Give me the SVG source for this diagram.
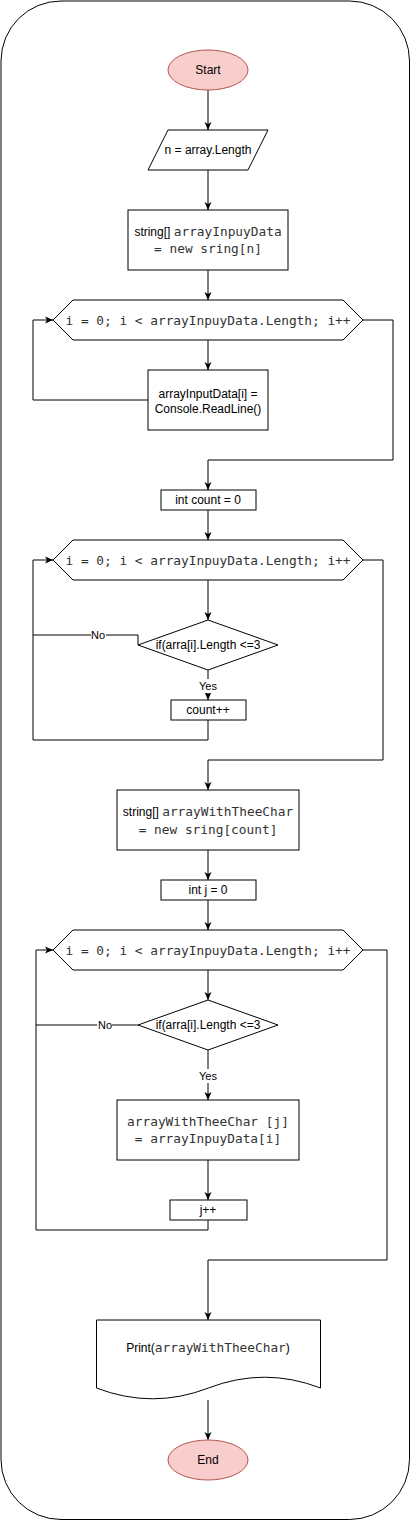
<svg xmlns="http://www.w3.org/2000/svg" width="411" height="1521" viewBox="0 0 411 1521">
<defs>
<style>
.sh{fill:#fff;stroke:#000;stroke-width:1}
.term{fill:#f8cecc;stroke:#b85450;stroke-width:1}
.ln{fill:none;stroke:#000;stroke-width:1}
.t{font-family:"Liberation Sans",Arial,sans-serif;font-size:12px;fill:#000;text-anchor:middle}
.m{font-family:"DejaVu Sans Mono","Liberation Mono",monospace;font-size:12.8px;fill:#333}
.a{font-family:"Liberation Sans",Arial,sans-serif;font-size:12px;fill:#000}
.lbl{font-family:"Liberation Sans",Arial,sans-serif;font-size:11px;fill:#000;text-anchor:middle}
</style>
<marker id="arr" markerUnits="userSpaceOnUse" markerWidth="10" markerHeight="10" refX="8" refY="4" orient="auto">
<path d="M0,0.5 L8,4 L0,7.5 L2,4 Z" fill="#000"/>
</marker>
</defs>
<rect id="frame" x="1" y="1" width="408.5" height="1518.5" rx="60" ry="60" fill="#fff" stroke="#000"/>
<g id="connectors">
<path class="ln" d="M208,90 V130" marker-end="url(#arr)"/>
<path class="ln" d="M208,170 V210" marker-end="url(#arr)"/>
<path class="ln" d="M208,270 V300" marker-end="url(#arr)"/>
<path class="ln" d="M208,340 V370" marker-end="url(#arr)"/>
<path class="ln" d="M148,400 H33 V320 H53" marker-end="url(#arr)"/>
<path class="ln" d="M363,320 H393 V460 H208 V490" marker-end="url(#arr)"/>
<path class="ln" d="M208,510 V540" marker-end="url(#arr)"/>
<path class="ln" d="M208,580 V620" marker-end="url(#arr)"/>
<path class="ln" d="M138,645 V635 H33"/>
<path class="ln" d="M208,670 V700" marker-end="url(#arr)"/>
<path class="ln" d="M208,720 V740 H33 V560 H53" marker-end="url(#arr)"/>
<path class="ln" d="M363,560 H383 V760 H208 V790" marker-end="url(#arr)"/>
<path class="ln" d="M208,850 V880" marker-end="url(#arr)"/>
<path class="ln" d="M208,900 V930" marker-end="url(#arr)"/>
<path class="ln" d="M208,970 V1000" marker-end="url(#arr)"/>
<path class="ln" d="M138,1025 H36"/>
<path class="ln" d="M208,1050 V1100" marker-end="url(#arr)"/>
<path class="ln" d="M208,1160 V1200" marker-end="url(#arr)"/>
<path class="ln" d="M208,1220 V1230 H36 V950 H53" marker-end="url(#arr)"/>
<path class="ln" d="M363,950 H387 V1260 H208 V1320" marker-end="url(#arr)"/>
<path class="ln" d="M208,1400 V1440" marker-end="url(#arr)"/>
<rect x="91" y="628" width="15" height="14" fill="#fff"/>
<text class="lbl" x="98" y="639">No</text>
<rect x="97" y="1018" width="15" height="14" fill="#fff"/>
<text class="lbl" x="105" y="1029">No</text>
<rect x="198" y="679" width="20" height="14" fill="#fff"/>
<text class="lbl" x="208" y="690">Yes</text>
<rect x="198" y="1069" width="20" height="14" fill="#fff"/>
<text class="lbl" x="208" y="1080">Yes</text>
</g>
<g id="start">
<ellipse class="term" cx="208" cy="70" rx="40" ry="20"/>
<text class="t" x="208" y="74">Start</text>
</g>
<g id="input-n">
<path class="sh" d="M168,130 H268 L248,170 H148 Z"/>
<text class="t" x="208" y="154">n = array.Length</text>
</g>
<g id="decl-input">
<rect class="sh" x="128" y="210" width="160" height="60"/>
<text class="t" x="208" y="236"><tspan class="a">string[] </tspan><tspan class="m">arrayInpuyData</tspan></text>
<text class="t" x="208" y="253"><tspan class="m">= new sring[n]</tspan></text>
</g>
<g id="loop1">
<path class="sh" d="M73,300 H343 L363,320 L343,340 H73 L53,320 Z"/>
<text class="t" x="208" y="324.5"><tspan class="m">i = 0; i &lt; arrayInpuyData.Length; i++</tspan></text>
</g>
<g id="read-line">
<rect class="sh" x="148" y="370" width="120" height="60"/>
<text class="t" x="208" y="397.5">arrayInputData[i] =</text>
<text class="t" x="208" y="412.5">Console.ReadLine()</text>
</g>
<g id="count-init">
<rect class="sh" x="161" y="490" width="95" height="20"/>
<text class="t" x="208" y="504">int count = 0</text>
</g>
<g id="loop2">
<path class="sh" d="M73,540 H343 L363,560 L343,580 H73 L53,560 Z"/>
<text class="t" x="208" y="564.5"><tspan class="m">i = 0; i &lt; arrayInpuyData.Length; i++</tspan></text>
</g>
<g id="cond1">
<path class="sh" d="M208,620 L278,645 L208,670 L138,645 Z"/>
<text class="t" x="208" y="649">if(arra[i].Length &lt;=3</text>
</g>
<g id="count-inc">
<rect class="sh" x="171" y="700" width="75" height="20"/>
<text class="t" x="208" y="714">count++</text>
</g>
<g id="decl-result">
<rect class="sh" x="117" y="790" width="182" height="60"/>
<text class="t" x="208" y="816"><tspan class="a">string[] </tspan><tspan class="m">arrayWithTheeChar</tspan></text>
<text class="t" x="208" y="834"><tspan class="m">= new sring[count]</tspan></text>
</g>
<g id="j-init">
<rect class="sh" x="161" y="880" width="95" height="20"/>
<text class="t" x="208" y="894">int j = 0</text>
</g>
<g id="loop3">
<path class="sh" d="M73,930 H343 L363,950 L343,970 H73 L53,950 Z"/>
<text class="t" x="208" y="954.5"><tspan class="m">i = 0; i &lt; arrayInpuyData.Length; i++</tspan></text>
</g>
<g id="cond2">
<path class="sh" d="M208,1000 L278,1025 L208,1050 L138,1025 Z"/>
<text class="t" x="208" y="1029">if(arra[i].Length &lt;=3</text>
</g>
<g id="assign">
<rect class="sh" x="117" y="1100" width="182" height="60"/>
<text class="t" x="208" y="1126"><tspan class="m">arrayWithTheeChar [j]</tspan></text>
<text class="t" x="208" y="1143"><tspan class="m">= arrayInpuyData[i]</tspan></text>
</g>
<g id="j-inc">
<rect class="sh" x="170" y="1200" width="77" height="20"/>
<text class="t" x="208" y="1214">j++</text>
</g>
<g id="print">
<path class="sh" d="M96.5,1320 H320.5 V1388 Q264.5,1366.4 208.5,1388 Q152.5,1409.6 96.5,1388 Z"/>
<text class="t" x="208" y="1352"><tspan class="a">Print(</tspan><tspan class="m">arrayWithTheeChar</tspan><tspan class="a">)</tspan></text>
</g>
<g id="end">
<ellipse class="term" cx="208" cy="1460" rx="40" ry="20"/>
<text class="t" x="208" y="1464">End</text>
</g>
</svg>
